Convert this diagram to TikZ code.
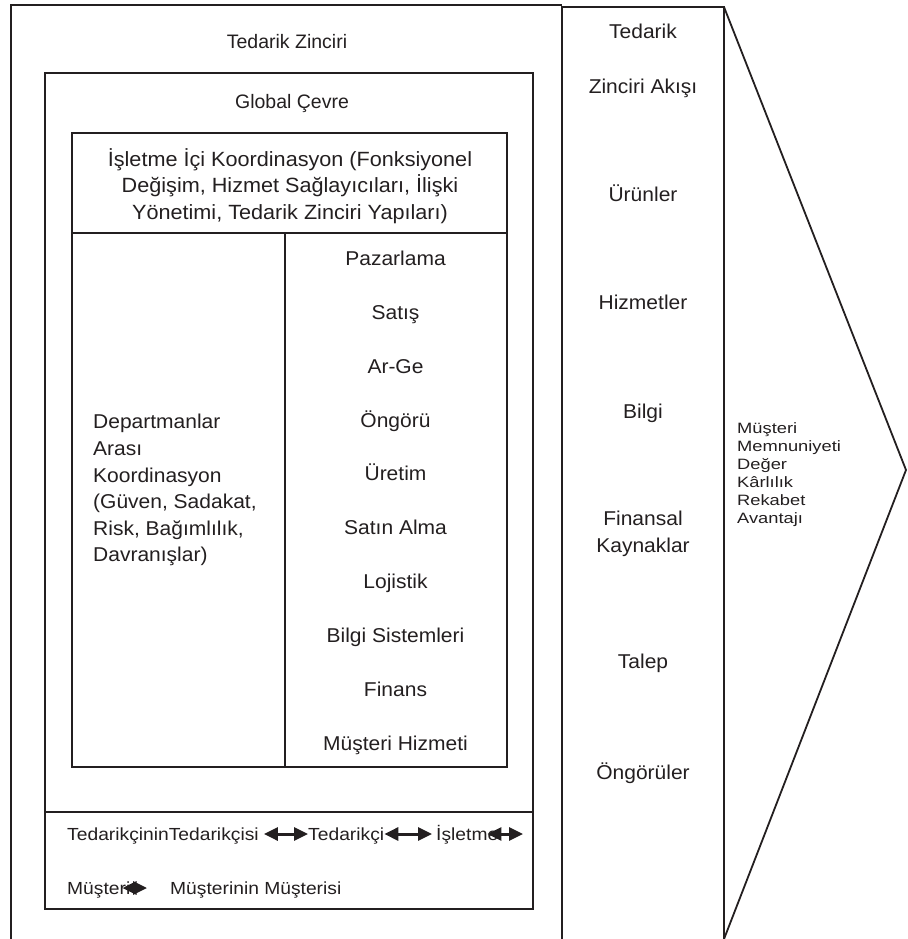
\documentclass[tikz,border=0pt]{standalone}
\usepackage{fontspec}
\setmainfont{Liberation Sans}[FakeStretch=1.05]
\newfontfamily\widesmall{Liberation Sans}[FakeStretch=1.1]
\newfontfamily\widetiny{Liberation Sans}[FakeStretch=1.22]
\newfontfamily\plaintitle{Liberation Sans}
\usetikzlibrary{arrows.meta}

\definecolor{ink}{HTML}{231F20}

\tikzset{
  frame/.style={draw=ink, line width=1.8pt, line join=miter},
  lbl/.style={inner sep=0pt, text=ink, font=\fontsize{20}{26.7}\selectfont},
  title/.style={inner sep=0pt, text=ink, anchor=base, font=\plaintitle\fontsize{19.5}{22}\selectfont},
  headlbl/.style={inner sep=0pt, text=ink, anchor=base, font=\fontsize{20.6}{26.7}\selectfont},
  flowlbl/.style={lbl, anchor=base},
  gain/.style={inner sep=0pt, text=ink, anchor=base west, font=\widetiny\fontsize{15}{18}\selectfont},
  party/.style={inner sep=0pt, text=ink, anchor=base west, text height=14pt, text depth=2pt,
                font=\widesmall\fontsize{17.5}{20}\selectfont},
  link/.style={draw=ink, line width=3pt,
               {Triangle[length=14pt,width=13pt]}-{Triangle[length=14pt,width=13pt]}},
}

\begin{document}
\begin{tikzpicture}[x=1pt, y=-1pt]
\useasboundingbox (0,0) rectangle (907,939);

% supply chain frame, open at the bottom
\draw[frame] (11,945) -- (11,5) -- (562,5);
% flow column and the pointed outcome panel
\draw[frame] (562,945) -- (562,7) -- (724,7) -- (724,945);
\draw[frame] (724,7) -- (906,470) -- (724,939);

% global environment box with the chain strip at its foot
\draw[frame] (45,73) rectangle (533,909);
\draw[frame] (45,812) -- (533,812);

% internal coordination box
\draw[frame] (72,133) rectangle (507,767);
\draw[frame] (72,233) -- (507,233);
\draw[frame] (285,233) -- (285,767);

% titles
\node[title] (chain) at (287,48.5) {Tedarik Zinciri};
\node[title] (global) at (292,109) {Global Çevre};

% internal coordination heading
\foreach \t [count=\i] in {
  {İşletme İçi Koordinasyon (Fonksiyonel},
  {Değişim, Hizmet Sağlayıcıları, İlişki},
  {Yönetimi, Tedarik Zinciri Yapıları)}}
  \node[headlbl] (head\i) at (290, 166.2+26.7*\i-26.7) {\t};

% inter-department coordination
\foreach \t [count=\i] in {
  {Departmanlar}, {Arası}, {Koordinasyon}, {(Güven, Sadakat,},
  {Risk, Bağımlılık,}, {Davranışlar)}}
  \node[lbl, anchor=base west] (dept\i) at (93, 428.8+26.6*\i-26.6) {\t};

% functions
\foreach \t [count=\i] in {
  Pazarlama, Satış, Ar-Ge, Öngörü, Üretim, Satın Alma,
  Lojistik, Bilgi Sistemleri, Finans}
  \node[lbl, anchor=base] (func\i) at (395.5, 265.3+53.9*\i-53.9) {\t};
% the last entry runs into the bottom of its cell
\begin{scope}
  \clip (287,700) rectangle (505,757.5);
  \node[lbl, anchor=base] (func10) at (395.5, 750.4) {Müşteri Hizmeti};
\end{scope}

% supply chain flows
\node[flowlbl] (flowA) at (643,38.8) {Tedarik};
\node[flowlbl] (flowB) at (643,93.3) {Zinciri Akışı};
\node[flowlbl] (flowC) at (643,201.7) {Ürünler};
\node[flowlbl] (flowD) at (643,309.5) {Hizmetler};
\node[flowlbl] (flowE) at (643,418.5) {Bilgi};
\node[flowlbl] (flowF) at (643,525.5) {Finansal};
\node[flowlbl] (flowG) at (643,552.3) {Kaynaklar};
\node[flowlbl] (flowH) at (643,668) {Talep};
\node[flowlbl] (flowI) at (643,779) {Öngörüler};

% outcomes
\foreach \t [count=\i] in {
  Müşteri, Memnuniyeti, Değer, Kârlılık, Rekabet, Avantajı}
  \node[gain] (gain\i) at (737, 433+18*\i-18) {\t};

% chain members
\node[party] (p1) at (67,840) {TedarikçininTedarikçisi};
\node[party] (p2) at (308,840) {Tedarikçi};
\node[party] (p3) at (436,840) {İşletme};
\node[party] (p4) at (67,894) {Müşteri};
\node[party] (p5) at (170,894) {Müşterinin Müşterisi};
\coordinate (p3end) at (523,834);

\draw[link] ([xshift=5pt]p1.east) -- (p2.west);
\draw[link] (p2.east) -- ([xshift=-4pt]p3.west);
\draw[link] ([xshift=-11pt]p3.east) -- (p3end);
\draw[link] ([xshift=-8pt]p4.east) -- ([xshift=-23pt]p5.west);
\end{tikzpicture}
\end{document}
